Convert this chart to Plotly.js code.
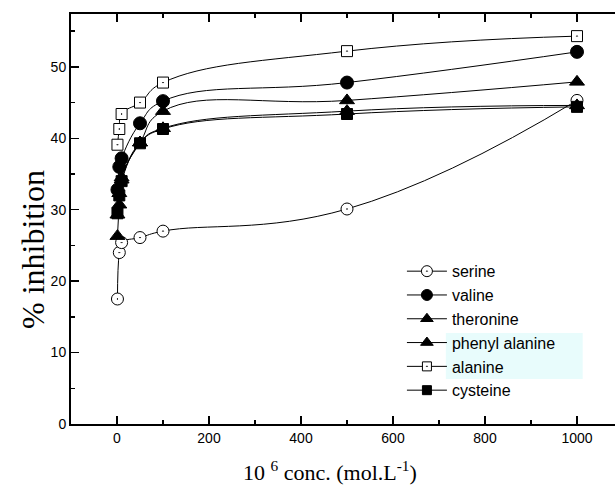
<!DOCTYPE html>
<html><head><meta charset="utf-8">
<script src="https://cdn.plot.ly/plotly-3.0.1.min.js"></script>
<style>html,body{margin:0;padding:0;overflow:hidden;background:#fff}</style>
</head><body><div id="chart"></div>
<script>
// concentrations (10^6 mol/L)
const conc = [1, 5, 10, 50, 100, 500, 1000];
const serine        = [17.5, 24.0, 25.4, 26.1, 27.0, 30.1, 45.3];
const valine        = [32.8, 36.0, 37.2, 42.1, 45.2, 47.8, 52.1];
const theronine     = [26.3, 30.7, 34.5, 39.4, 43.8, 45.3, 47.9];
const phenylAlanine = [29.3, 32.3, 34.2, 39.4, 41.4, 43.8, 44.6];
const alanine       = [39.1, 41.3, 43.4, 45.0, 47.8, 52.2, 54.3];
const cysteine      = [29.5, 32.0, 34.0, 39.3, 41.3, 43.4, 44.4];
const seriesNames = ['serine', 'valine', 'theronine', 'phenyl alanine', 'alanine', 'cysteine'];
const seriesData = [serine, valine, theronine, phenylAlanine, alanine, cysteine];
const symbols = ['circle-dot', 'circle', 'triangle-up', 'triangle-up', 'square-dot', 'square'];
const fills = ['#fff', '#000', '#000', '#000', '#fff', '#000'];
const sizes = [12, 13, 13, 13, 11, 11];
const legendSizes = [11, 11, 11, 11, 9, 9];
const xTitle = '10 <sup>6</sup> conc. (mol.L<sup>-1</sup>)';
const yTitle = '% inhibition';

const traces = [];
seriesData.forEach((ys, i) => {
  traces.push({
    x: conc, y: ys, name: seriesNames[i], type: 'scatter', mode: 'lines+markers',
    line: {shape: 'spline', smoothing: 1.3, color: '#000', width: 1},
    marker: {symbol: symbols[i], size: sizes[i], color: fills[i], line: {color: '#000', width: 1}},
    showlegend: false
  });
});
// legend-only entries (smaller symbols, as in the reference legend)
seriesData.forEach((ys, i) => {
  traces.push({
    x: [null], y: [null], name: seriesNames[i], type: 'scatter', mode: 'lines+markers',
    legendgroup: 'g' + i,
    line: {color: '#000', width: 1},
    marker: {symbol: symbols[i], size: legendSizes[i], color: fills[i], line: {color: '#000', width: 1}},
    showlegend: true
  });
});

const serif = 'Liberation Serif, Times New Roman, serif';
const layout = {
  width: 630, height: 486,
  margin: {l: 71, r: 7, t: 14, b: 62},
  paper_bgcolor: '#fff', plot_bgcolor: '#fff',
  font: {family: 'Liberation Sans, Arial, sans-serif', size: 14, color: '#000'},
  xaxis: {
    range: [-100, 1100], tickvals: [0, 200, 400, 600, 800, 1000],
    showline: true, linewidth: 2, linecolor: '#000', mirror: 'ticks',
    ticks: 'inside', ticklen: 8, tickwidth: 1.5, tickcolor: '#000',
    minor: {tickvals: [-100, 100, 300, 500, 700, 900, 1100], ticks: 'inside', ticklen: 4, tickwidth: 1.5, tickcolor: '#000'},
    showgrid: false, zeroline: false
  },
  yaxis: {
    range: [0, 57.4], tickvals: [0, 10, 20, 30, 40, 50],
    showline: true, linewidth: 2, linecolor: '#000', mirror: 'ticks',
    ticks: 'inside', ticklen: 8, tickwidth: 1.5, tickcolor: '#000',
    minor: {tickvals: [5, 15, 25, 35, 45, 55], ticks: 'inside', ticklen: 4, tickwidth: 1.5, tickcolor: '#000'},
    showgrid: false, zeroline: false
  },
  annotations: [
    {text: xTitle, xref: 'paper', yref: 'paper', x: (330 - 71) / 552, y: -(471 - 424) / 410,
     xanchor: 'center', yanchor: 'middle', showarrow: false, font: {family: serif, size: 22}},
    {text: yTitle, xref: 'paper', yref: 'paper', x: -(71 - 33) / 552, y: (424 - 250) / 410,
     xanchor: 'center', yanchor: 'middle', textangle: -90, showarrow: false, font: {family: serif, size: 32}}
  ],
  legend: {
    x: 0.5995, y: 0.414, xanchor: 'left', yanchor: 'top',
    bgcolor: 'rgba(0,0,0,0)', font: {family: 'Liberation Sans, Arial, sans-serif', size: 16},
    tracegroupgap: 0, itemwidth: 40
  },
  shapes: [{type: 'rect', xref: 'paper', yref: 'paper', x0: 0.679, x1: 0.927, y0: 0.11, y1: 0.222,
            fillcolor: '#E8FCFC', line: {width: 0}, layer: 'below'}]
};

Plotly.newPlot('chart', traces, layout, {displayModeBar: false, staticPlot: true});
</script></body></html>
